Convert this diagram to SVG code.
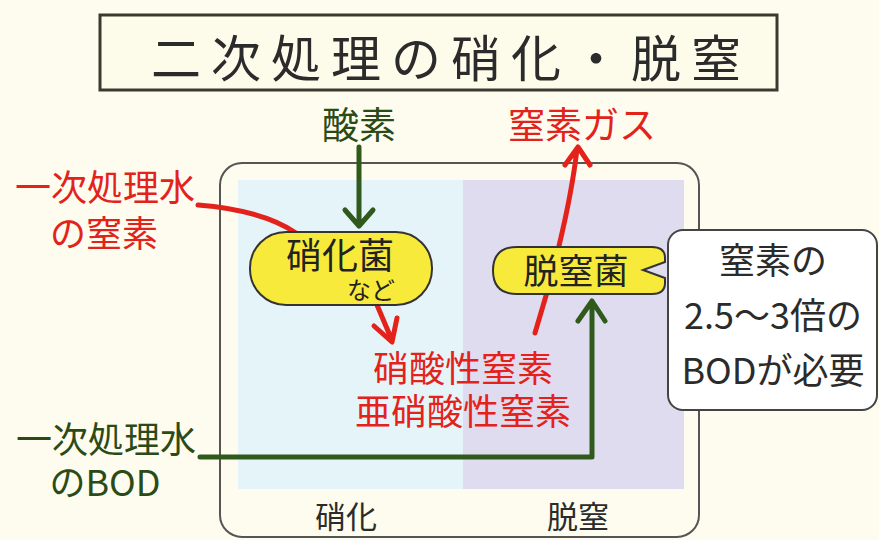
<svg xmlns="http://www.w3.org/2000/svg" width="879" height="540" viewBox="0 0 879 540">
<defs>
<style>
text{font-family:"Noto Sans CJK JP","Noto Sans",sans-serif;}
.red{fill:#e3231b;}
.grn{fill:#2b4a16;}
.dk{fill:#2b2b2b;}
.rl{fill:none;stroke:#e3231b;stroke-width:5;stroke-linecap:round;stroke-linejoin:round;}
.gl{fill:none;stroke:#2f5a1c;stroke-width:5;stroke-linecap:round;stroke-linejoin:round;}
.node{stroke:#333;stroke-width:2;fill:#f8ea3a;}
</style>
</defs>
<rect width="879" height="540" fill="#fdfcee"/>
<g id="title">
<rect x="100" y="15" width="677" height="75" fill="#fdfbea" stroke="#3a3a30" stroke-width="3"/>
<text x="451" y="77" font-size="50" text-anchor="middle" class="dk" letter-spacing="10">二次処理の硝化・脱窒</text>
</g>
<g id="frame">
<rect x="220" y="163" width="479" height="374" rx="22" fill="#fdfcee" stroke="#555" stroke-width="2"/>
<rect x="238" y="180" width="225" height="309" fill="#e4f4f8"/>
<rect x="463" y="180" width="221" height="309" fill="#e0dcef"/>
<text x="346" y="528" font-size="31" text-anchor="middle" class="dk">硝化</text>
<text x="578" y="528" font-size="31" text-anchor="middle" class="dk">脱窒</text>
</g>
<g id="connectors">
<path class="gl" d="M359 147 V225 M345 210 L359 226 L373 210"/>
<path class="rl" d="M198 205 Q262 210 296 233"/>
<path class="rl" d="M377 305 L391 338 M374 326 L392 342 L397 318"/>
<path class="rl" d="M535 333 C550 285 570 210 577 149 M565 165 L578 147 L590 165"/>
<path class="gl" d="M200 457 H592 V302 M578 321 L592 301 L605 321"/>
</g>
<g id="oxygen"><text x="359" y="139" font-size="37" text-anchor="middle" class="grn">酸素</text></g>
<g id="n2gas"><text x="582" y="139" font-size="37" text-anchor="middle" class="red">窒素ガス</text></g>
<g id="in-n">
<text x="105" y="201" font-size="36" text-anchor="middle" class="red">一次処理水</text>
<text x="104" y="247" font-size="36" text-anchor="middle" class="red">の窒素</text>
</g>
<g id="in-bod">
<text x="106" y="453" font-size="36" text-anchor="middle" class="grn">一次処理水</text>
<text x="105" y="496" font-size="36" text-anchor="middle" class="grn">のBOD</text>
</g>
<g id="nitrifier">
<rect x="250" y="232" width="182" height="73" rx="36" class="node"/>
<text x="340" y="269" font-size="36" text-anchor="middle" fill="#222">硝化菌</text>
<text x="371" y="299" font-size="24" text-anchor="middle" fill="#222">など</text>
</g>
<g id="nitrate">
<text x="463" y="382" font-size="36" text-anchor="middle" class="red">硝酸性窒素</text>
<text x="463" y="425" font-size="36" text-anchor="middle" class="red">亜硝酸性窒素</text>
</g>
<g id="denitrifier">
<path class="node" d="M517 247 H652 Q665 247 665 258 V262 L643 270 L665 278 V283 Q665 294 652 294 H517 Q493 294 493 270.5 Q493 247 517 247 Z"/>
<text x="576" y="284" font-size="35" text-anchor="middle" fill="#222">脱窒菌</text>
</g>
<g id="note">
<rect x="668" y="230" width="209" height="180" rx="15" fill="#fff" stroke="#444" stroke-width="2"/>
<text x="773" y="274" font-size="36" text-anchor="middle" class="dk">窒素の</text>
<text x="773" y="329" font-size="36" text-anchor="middle" class="dk">2.5～3倍の</text>
<text x="773" y="384" font-size="36" text-anchor="middle" class="dk">BODが必要</text>
</g>
</svg>
